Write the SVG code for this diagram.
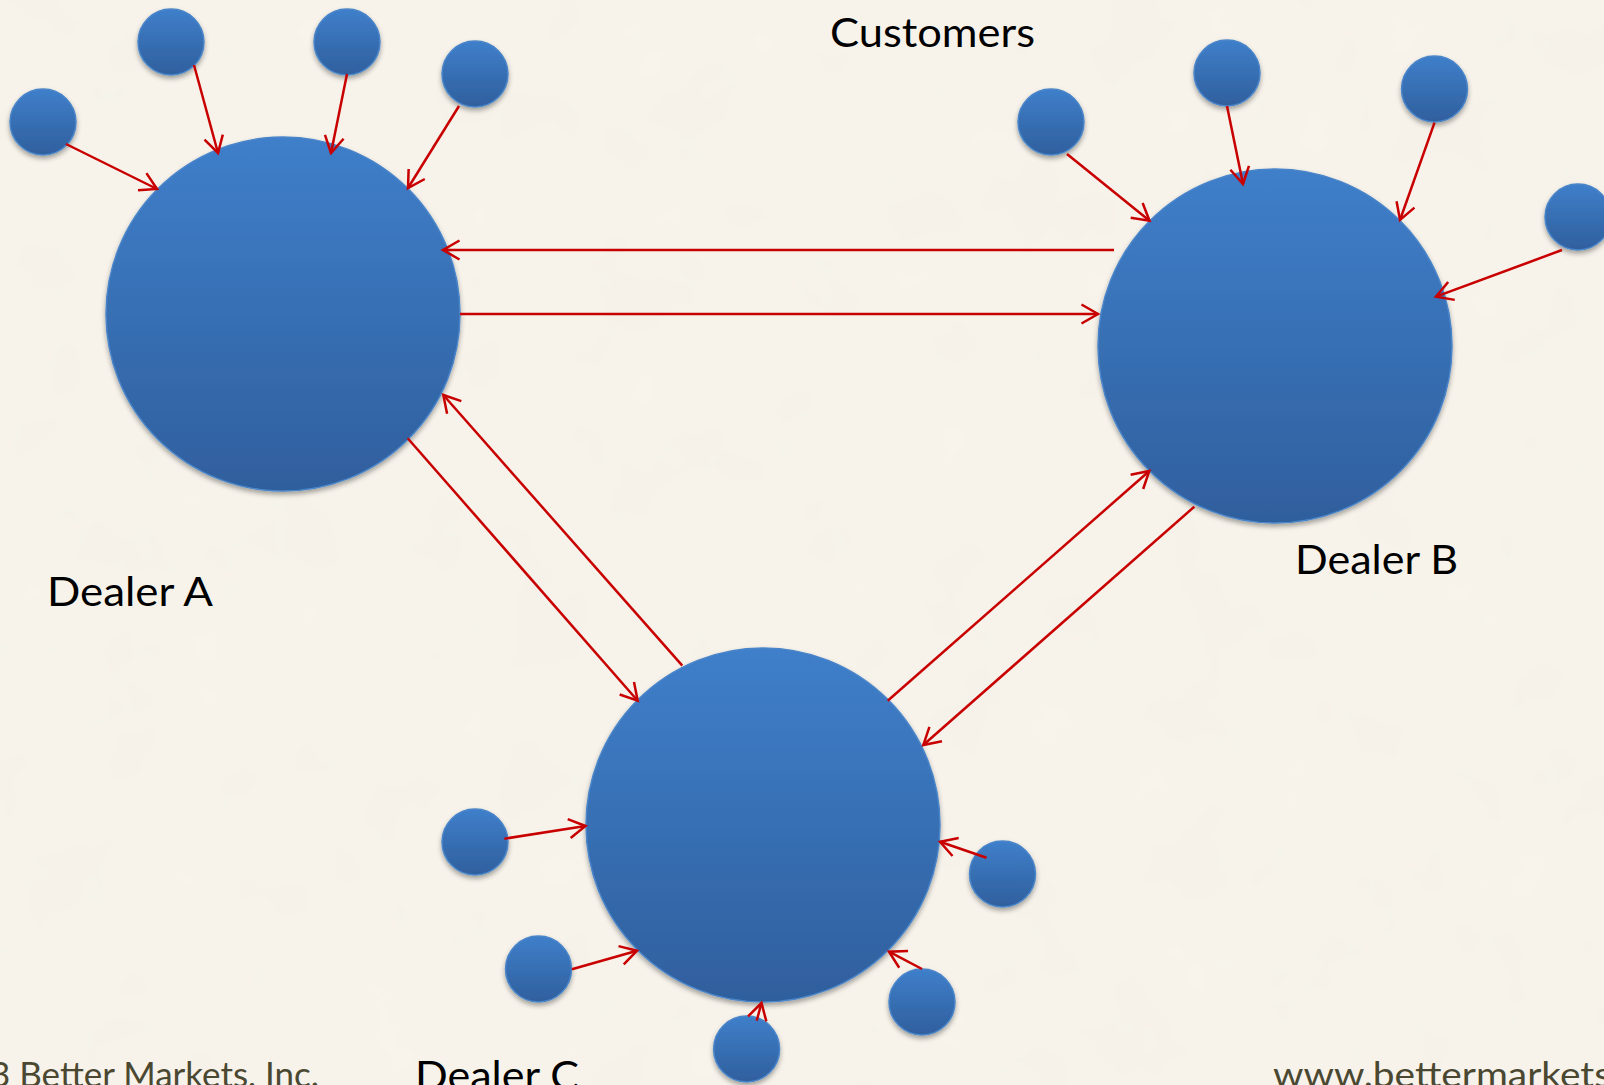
<svg xmlns="http://www.w3.org/2000/svg" width="1604" height="1085" viewBox="0 0 1604 1085">
  <style>
    .node { fill: url(#blueFill); stroke: #4a85c9; stroke-width: 1.5; filter: url(#softShadow); }
    .link { fill: none; stroke: #c80000; stroke-width: 2.5; marker-end: url(#openArrow); }
    .label { font-family: Lato, "Open Sans", "Liberation Sans", sans-serif; fill: #000; }
    .footer { font-family: Lato, "Open Sans", "Liberation Sans", sans-serif; fill: #4b4832; font-size: 34px; }
  </style>
  <defs>
    <linearGradient id="blueFill" x1="0" y1="0" x2="0" y2="1">
      <stop offset="0" stop-color="#3f7fca"/>
      <stop offset="1" stop-color="#2f5f9d"/>
    </linearGradient>
    <filter id="softShadow" x="-20%" y="-20%" width="140%" height="150%">
      <feDropShadow dx="0" dy="3" stdDeviation="2.5" flood-color="#000" flood-opacity="0.35"/>
    </filter>
    <filter id="paper" x="0" y="0" width="100%" height="100%">
      <feTurbulence type="fractalNoise" baseFrequency="0.012" numOctaves="3" seed="7" result="noise"/>
      <feColorMatrix in="noise" type="matrix" values="0 0 0 0 0.85  0 0 0 0 0.82  0 0 0 0 0.74  0 0 0 0.22 0"/>
    </filter>
    <marker id="openArrow" markerUnits="userSpaceOnUse" viewBox="-20 -12 24 24" refX="0" refY="0" markerWidth="24" markerHeight="24" orient="auto" overflow="visible">
      <path d="M-16.5,-9.5 L0,0 L-16.5,9.5" fill="none" stroke="#c80000" stroke-width="2.5"/>
    </marker>
  </defs>

  <!-- paper background -->
  <rect width="1604" height="1085" fill="#f8f4ec"/>
  <rect width="1604" height="1085" filter="url(#paper)"/>

  <!-- dealers -->
  <g id="dealer-a">
    <circle class="node" cx="283" cy="314" r="177"/>
    <text class="label" x="47" y="606" font-size="41" textLength="166" lengthAdjust="spacingAndGlyphs">Dealer A</text>
  </g>
  <g id="dealer-b">
    <circle class="node" cx="1275" cy="346" r="177"/>
    <text class="label" x="1295" y="574" font-size="41" textLength="163" lengthAdjust="spacingAndGlyphs">Dealer B</text>
  </g>
  <g id="dealer-c">
    <circle class="node" cx="763" cy="825" r="177"/>
    <text class="label" x="415" y="1090" font-size="41" textLength="164" lengthAdjust="spacingAndGlyphs">Dealer C</text>
  </g>

  <!-- customers of dealer A -->
  <g id="customer-a1"><circle class="node" cx="43" cy="122" r="33"/></g>
  <g id="customer-a2"><circle class="node" cx="171" cy="42" r="33"/></g>
  <g id="customer-a3"><circle class="node" cx="347" cy="42" r="33"/></g>
  <g id="customer-a4"><circle class="node" cx="475" cy="74" r="33"/></g>

  <!-- customers of dealer B -->
  <g id="customer-b1"><circle class="node" cx="1051" cy="122" r="33"/></g>
  <g id="customer-b2"><circle class="node" cx="1227" cy="73" r="33"/></g>
  <g id="customer-b3"><circle class="node" cx="1434.5" cy="89" r="33"/></g>
  <g id="customer-b4"><circle class="node" cx="1578" cy="217" r="33"/></g>

  <!-- customers of dealer C -->
  <g id="customer-c1"><circle class="node" cx="475" cy="842" r="33"/></g>
  <g id="customer-c2"><circle class="node" cx="538.5" cy="969" r="33"/></g>
  <g id="customer-c3"><circle class="node" cx="746.6" cy="1049" r="33"/></g>
  <g id="customer-c4"><circle class="node" cx="922" cy="1002" r="33"/></g>
  <g id="customer-c5"><circle class="node" cx="1002.5" cy="874" r="33"/></g>

  <!-- connectors -->
  <g id="connectors">
    <!-- customers to dealer A -->
    <line class="link" x1="66" y1="144" x2="157" y2="189"/>
    <line class="link" x1="194" y1="65" x2="218" y2="153"/>
    <line class="link" x1="347" y1="74" x2="331" y2="153"/>
    <line class="link" x1="459" y1="106" x2="408" y2="188"/>
    <!-- customers to dealer B -->
    <line class="link" x1="1067" y1="154" x2="1149.5" y2="220.7"/>
    <line class="link" x1="1227" y1="106" x2="1243" y2="184"/>
    <line class="link" x1="1434.5" y1="122.7" x2="1400" y2="220"/>
    <line class="link" x1="1562" y1="250" x2="1436" y2="296.7"/>
    <!-- customers to dealer C -->
    <line class="link" x1="504.4" y1="838.7" x2="585.5" y2="826"/>
    <line class="link" x1="571.9" y1="969.3" x2="637" y2="950.7"/>
    <line class="link" x1="756.7" y1="1020.7" x2="761.5" y2="1003"/>
    <line class="link" x1="922" y1="969" x2="889" y2="951.7"/>
    <line class="link" x1="986.5" y1="857.7" x2="940" y2="841.7"/>
    <!-- dealer to dealer -->
    <line class="link" x1="1114" y1="250" x2="443" y2="250"/>
    <line class="link" x1="460" y1="314" x2="1098" y2="314"/>
    <line class="link" x1="407.7" y1="438.3" x2="637.7" y2="700.7"/>
    <line class="link" x1="682.3" y1="665.7" x2="443.3" y2="395"/>
    <line class="link" x1="887.7" y1="700.7" x2="1149.3" y2="471"/>
    <line class="link" x1="1194.3" y1="506.7" x2="923.3" y2="745"/>
  </g>

  <!-- titles and footer -->
  <text id="customers-title" class="label" x="830" y="47" font-size="40" textLength="205" lengthAdjust="spacingAndGlyphs">Customers</text>
  <text class="footer" x="-10" y="1087" textLength="329" lengthAdjust="spacingAndGlyphs">3 Better Markets, Inc.</text>
  <text class="footer" x="1273" y="1087" textLength="338" lengthAdjust="spacingAndGlyphs">www.bettermarkets</text>
</svg>
